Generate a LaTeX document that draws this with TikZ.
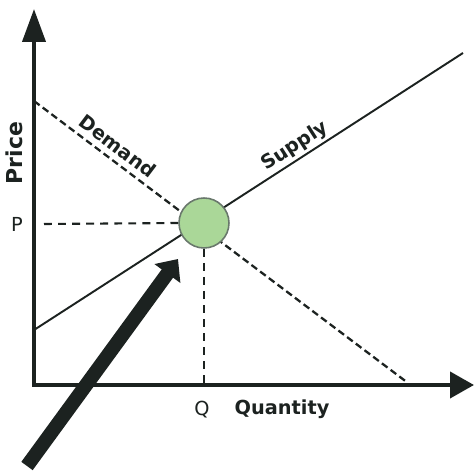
\documentclass[tikz,border=0pt]{standalone}
\usepackage{fontspec}
\setmainfont{DejaVu Sans}
\usetikzlibrary{arrows.meta}
\definecolor{ink}{RGB}{28,34,32}
\definecolor{eqgreen}{RGB}{170,215,152}
\definecolor{eqrim}{RGB}{105,120,108}

\begin{document}
\begin{tikzpicture}[x=0.02cm,y=-0.02cm,
    axis/.style={ink,line width=2.3pt},
    curve/.style={ink,line width=1.1pt},
    demandline/.style={curve,line width=1.3pt,dash pattern=on 4pt off 2.2pt},
    guide/.style={ink,line width=1.2pt,dash pattern=on 4.5pt off 3.5pt},
    lbl/.style={ink,font=\fontsize{11}{13}\selectfont},
    blbl/.style={ink,font=\bfseries\fontsize{11}{13}\selectfont}]
  \useasboundingbox (0,0) rectangle (474,472);
  % axes
  \coordinate (O) at (34,385);
  \coordinate (yTip) at (34,9);
  \coordinate (xTip) at (474,385);
  \draw[axis,{Triangle[length=0.66cm,width=0.46cm]}-{Triangle[length=0.48cm,width=0.52cm]}]
    (yTip) -- (O) -- (xTip);
  \node[blbl,rotate=90,font=\bfseries\fontsize{12.5}{14}\selectfont] (price) at (14,153) {Price};
  \node[blbl] (quantity) at (282,409) {Quantity};
  % demand and supply
  \coordinate (D1) at (34,101);
  \coordinate (D2) at (408,383);
  \coordinate (S1) at (34,330);
  \coordinate (S2) at (463,53);
  \draw[demandline] (D1) -- (D2) node[blbl,pos=0.2,sloped,above=0pt] {Demand};
  \draw[curve] (S1) -- (S2) node[blbl,pos=0.625,sloped,above=-2pt] {Supply};
  % equilibrium
  \node[circle,fill=eqgreen,draw=eqrim,line width=0.9pt,minimum size=1.0cm,inner sep=0pt] (E) at (204,223) {};
  \node[lbl] (P) at (17,224) {P};
  \node[lbl] (Q) at (202,410) {Q};
  \coordinate (Pstart) at (44,224);
  \draw[guide] (Pstart) -- (E.west);
  \draw[guide] (E.south) -- (E |- O);
  % pointer
  \coordinate (tail) at (27,466);
  \coordinate (head) at (178,259);
  \draw[ink,line width=8pt,-{Triangle[length=0.36cm,width=0.62cm]}] (tail) -- (head);
\end{tikzpicture}
\end{document}
